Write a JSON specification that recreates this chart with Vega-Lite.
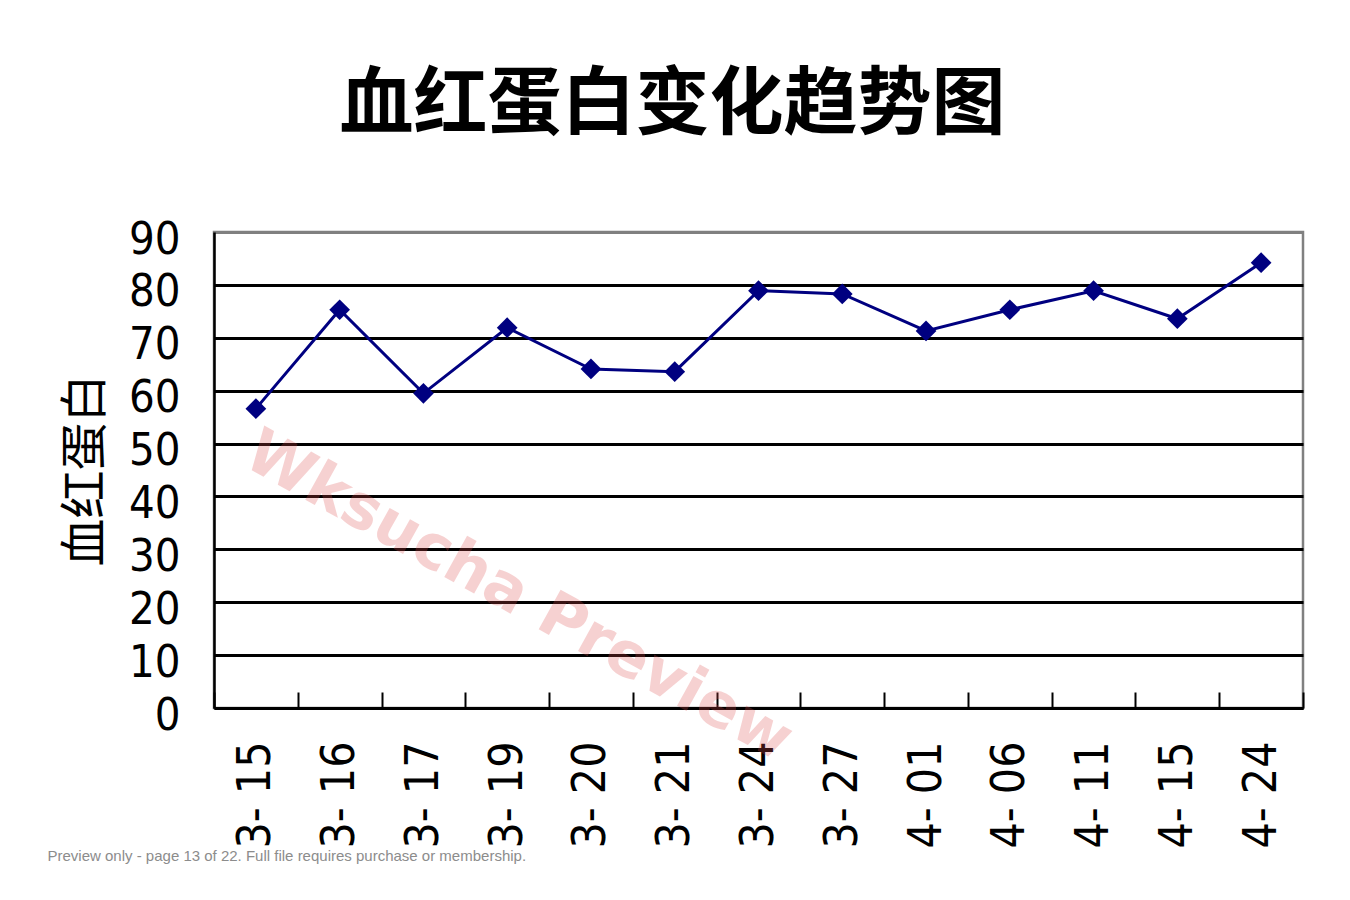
{
  "$schema": "https://vega.github.io/schema/vega-lite/v6.json",
  "autosize": "none",
  "width": 1089,
  "height": 476,
  "padding": {"left": 214, "top": 232, "right": 47, "bottom": 192},
  "background": "white",
  "title": {
    "text": "血红蛋白变化趋势图",
    "font": "Noto Sans CJK SC",
    "fontSize": 74,
    "fontWeight": "bold",
    "color": "black",
    "anchor": "middle",
    "frame": "group",
    "dx": -86,
    "offset": 73
  },
  "config": {"view": {"stroke": "#808080", "strokeWidth": 2.5}},
  "datasets": {
    "hb": [
      {"date": "3-15", "hb": 56.6},
      {"date": "3-16", "hb": 75.3},
      {"date": "3-17", "hb": 59.5},
      {"date": "3-19", "hb": 71.9},
      {"date": "3-20", "hb": 64.1},
      {"date": "3-21", "hb": 63.6},
      {"date": "3-24", "hb": 78.9},
      {"date": "3-27", "hb": 78.3},
      {"date": "4-01", "hb": 71.3},
      {"date": "4-06", "hb": 75.3},
      {"date": "4-11", "hb": 78.9},
      {"date": "4-15", "hb": 73.6},
      {"date": "4-24", "hb": 84.2}
    ],
    "wm": [
      {"date": "3-19", "hb": 22.3, "text": "Wksucha Preview"}
    ]
  },
  "encoding": {
    "x": {
      "field": "date",
      "type": "ordinal",
      "sort": null,
      "scale": {
        "type": "band",
        "paddingInner": 0,
        "paddingOuter": 0,
        "domain": ["3-15", "3-16", "3-17", "3-19", "3-20", "3-21", "3-24", "3-27", "4-01", "4-06", "4-11", "4-15", "4-24"]
      },
      "axis": {
        "title": "Preview only - page 13 of 22. Full file requires purchase or membership.",
        "titleAnchor": "start",
        "titleAlign": "left",
        "titleBaseline": "alphabetic",
        "titleX": -167,
        "titleY": 152,
        "titleFont": "Liberation Sans",
        "titleFontSize": 15,
        "titleFontWeight": "normal",
        "titleColor": "#8c8c8c",
        "labelExpr": "replace(datum.label, '-', '- ')",
        "labelAngle": 270,
        "labelAlign": "right",
        "labelBaseline": "middle",
        "labelFont": "DejaVu Sans Condensed, DejaVu Sans",
        "labelFontSize": 46,
        "labelColor": "black",
        "labelPadding": 49,
        "labelOverlap": false,
        "labelLimit": 300,
        "ticks": true,
        "tickBand": "extent",
        "tickSize": -16,
        "tickColor": "black",
        "tickWidth": 2,
        "domainColor": "black",
        "domainWidth": 2.5,
        "grid": false
      }
    },
    "y": {
      "field": "hb",
      "type": "quantitative",
      "scale": {"domain": [0, 90], "nice": false, "zero": true},
      "axis": {
        "title": "血红蛋白",
        "titleFont": "Noto Sans CJK SC",
        "titleFontSize": 48,
        "titleFontWeight": "normal",
        "titleColor": "black",
        "titlePadding": 18,
        "values": [0, 10, 20, 30, 40, 50, 60, 70, 80, 90],
        "labelFont": "DejaVu Sans Condensed, DejaVu Sans",
        "labelFontSize": 45,
        "labelColor": "black",
        "labelPadding": 34,
        "labelOffset": 7,
        "labelOverlap": false,
        "ticks": false,
        "domainColor": "black",
        "domainWidth": 2.5,
        "grid": true,
        "gridColor": {"condition": {"test": "datum.value == 90", "value": "#808080"}, "value": "black"},
        "gridWidth": 3,
        "gridOpacity": 1
      }
    }
  },
  "layer": [
    {
      "data": {"name": "hb"},
      "mark": {"type": "line", "color": "#000080", "strokeWidth": 3}
    },
    {
      "data": {"name": "hb"},
      "mark": {"type": "point", "shape": "diamond", "filled": true, "color": "#000080", "size": 430, "opacity": 1}
    },
    {
      "data": {"name": "wm"},
      "mark": {"type": "text", "angle": 29, "fontSize": 62, "fontWeight": "bold", "font": "DejaVu Sans", "color": "#e05050", "opacity": 0.26, "align": "center", "baseline": "middle", "dx": 13},
      "encoding": {"text": {"field": "text"}}
    }
  ]
}
